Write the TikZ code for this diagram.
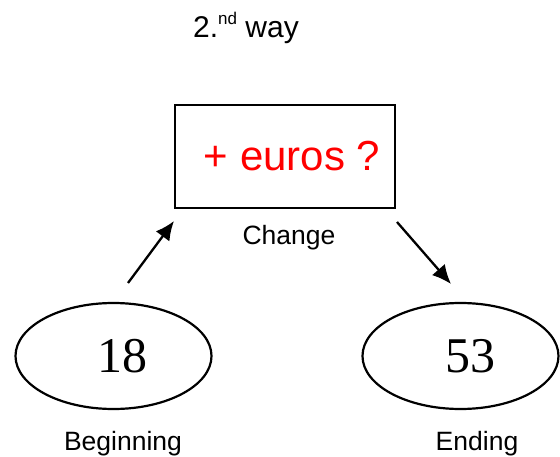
\documentclass[tikz,border=0pt]{standalone}
\usepackage{fontspec}
\setmainfont{Liberation Sans}
\newfontfamily\numfont{Liberation Serif}
\usetikzlibrary{shapes.geometric,arrows.meta}
\begin{document}
\begin{tikzpicture}[x=1pt,y=-1pt,
  outline/.style={draw=black,line width=2.2pt},
  statebox/.style={outline,rectangle,minimum width=220pt,minimum height=103pt,inner sep=0pt},
  stateoval/.style={outline,ellipse,minimum width=196pt,minimum height=106pt,inner sep=0pt},
  caption/.style={font=\fontsize{26.5}{30}\selectfont,inner sep=0pt,anchor=base},
  number/.style={font=\numfont\fontsize{50}{54}\selectfont,inner sep=0pt},
  flow/.style={line width=2.3pt,-{Latex[length=19pt,width=17pt]}}]
\useasboundingbox (0,0) rectangle (560,457);

% heading
\node[anchor=base,inner sep=0pt,font=\fontsize{30}{34}\selectfont] (title) at (246,38)
  {2.\raisebox{13pt}{\fontsize{17}{19}\selectfont nd} way};

% change box
\node[statebox] (change) at (285,156.5) {};
\node[inner sep=0pt,text=red,font=\fontsize{42}{46}\selectfont] (amount) at ([xshift=7pt]change.center) {+ euros ?};
\node[caption] (changelbl) at (289,245) {Change};

% start and end states
\node[stateoval] (begin) at (113.5,356) {};
\node[number] (bval) at ([xshift=9pt]begin.center) {18};
\node[caption] (beginlbl) at (123,450) {Beginning};

\node[stateoval] (end) at (460.5,356) {};
\node[number] (eval) at ([xshift=10pt]end.center) {53};
\node[caption] (endlbl) at (477,450) {Ending};

% arrows
\coordinate (a1s) at (128,283);
\coordinate (a1e) at (174,221);
\coordinate (a2s) at (397,222);
\coordinate (a2e) at (451,284);
\draw[flow] (a1s) -- (a1e);
\draw[flow] (a2s) -- (a2e);
\end{tikzpicture}
\end{document}
